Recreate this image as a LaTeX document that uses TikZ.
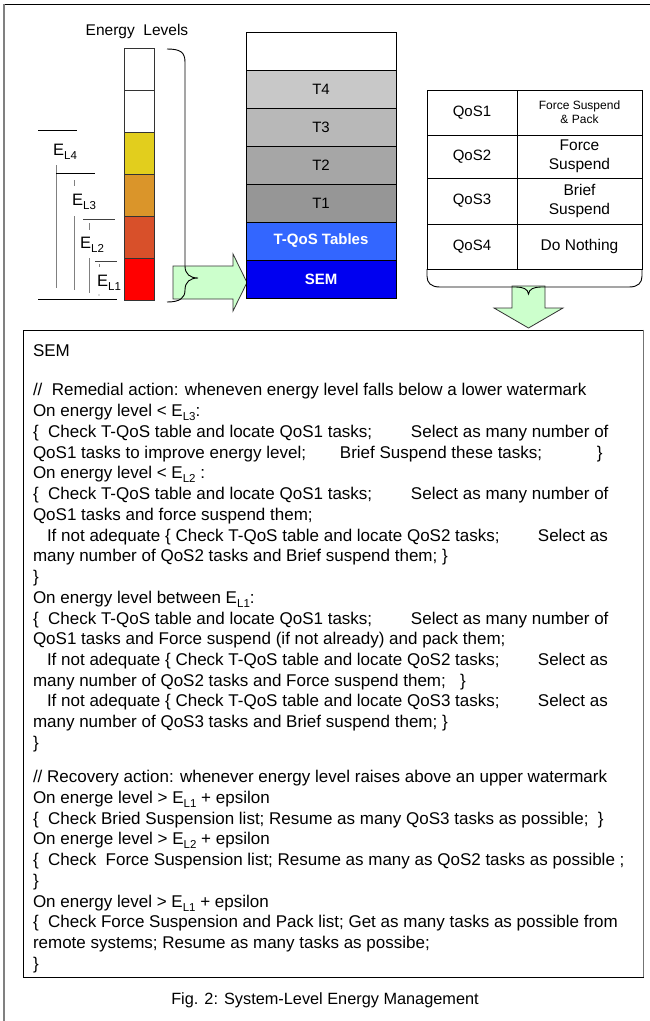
\documentclass[tikz,border=0pt]{standalone}
\usepackage{fontspec}
\setmainfont{Liberation Sans}
\definecolor{lvyellow}{HTML}{E2CE1D}
\definecolor{lvorange}{HTML}{DA952A}
\definecolor{lvbrick}{HTML}{D8502A}
\definecolor{lvred}{HTML}{FF0000}
\definecolor{tfour}{HTML}{C8C8C8}
\definecolor{tthree}{HTML}{B8B8B8}
\definecolor{ttwo}{HTML}{A6A6A6}
\definecolor{tone}{HTML}{969696}
\definecolor{tqos}{HTML}{3366FF}
\definecolor{semblue}{HTML}{0000F0}
\definecolor{arrowgreen}{HTML}{CCFFCC}
\newcommand\lsub[1]{\raisebox{-4pt}{\fontsize{11.5}{12}\selectfont #1}}
\newcommand\tabbox[2]{\makebox[#1pt][l]{#2}}
\begin{document}
\begin{tikzpicture}[x=1pt,y=-1pt,
  lvlcell/.style={draw=black!80, line width=0.9pt, minimum width=30pt, minimum height=42pt, inner sep=0pt},
  stackcell/.style={draw=black, line width=0.9pt, minimum width=150pt, minimum height=38pt, inner sep=0pt, font=\fontsize{15}{17}\selectfont},
  qoscell/.style={draw=black, line width=0.8pt, inner sep=0pt, minimum width=90pt, font=\fontsize{15}{17}\selectfont},
  actcell/.style={draw=black, line width=0.8pt, inner sep=0pt, minimum width=125pt, align=center, font=\fontsize{15.5}{18.5}\selectfont},
  levelrule/.style={line width=0.9pt, black},
  levelstem/.style={line width=0.9pt, black!50},
  elabel/.style={anchor=base west, inner sep=0pt, font=\fontsize{16.5}{18}\selectfont},
  blockarrow/.style={fill=arrowgreen, draw=black!80, line width=0.8pt, line join=miter},
  bracepath/.style={draw=black, line width=0.9pt},
  ln/.style={anchor=base west, inner sep=0pt, outer sep=0pt, font=\fontsize{17}{20}\selectfont}
]
\useasboundingbox (0,0) rectangle (650,1021);

% outer frame (only top and left edges)
\draw[line width=1pt, black] (4,4) -- (650,4);
\draw[line width=1.2pt, black!50] (4,4) -- (4,1021);

% energy level bar
\node (title) at (137,31) {\fontsize{15.5}{17}\selectfont Energy\ \ Levels};
\node[lvlcell, fill=white]    (e6) at (139,69)  {};
\node[lvlcell, fill=white]    (e5) at (139,111) {};
\node[lvlcell, fill=lvyellow] (e4) at (139,153) {};
\node[lvlcell, fill=lvorange] (e3) at (139,195) {};
\node[lvlcell, fill=lvbrick]  (e2) at (139,237) {};
\node[lvlcell, fill=lvred]    (e1) at (139,279) {};

% watermark levels
\draw[levelrule] (38,130) -- (77,130);
\node[elabel] (el4) at (53,155) {E\lsub{L4}};
\draw[levelstem] (56,165) -- (56,288);
\draw[levelrule] (56,173) -- (95,173);
\draw[levelstem] (74,180) -- (74,186);
\node[elabel] (el3) at (72,205) {E\lsub{L3}};
\draw[levelstem] (74,216) -- (74,290);
\draw[levelrule, black!75] (83,219) -- (115,219);
\draw[levelstem] (89,223) -- (89,230);
\node[elabel] (el2) at (80,248) {E\lsub{L2}};
\draw[levelstem] (89,258) -- (89,293);
\draw[levelrule, black!75] (95,261) -- (117,261);
\draw[levelstem] (99,264) -- (99,267);
\node[elabel] (el1) at (97,286) {E\lsub{L1}};
\fill[black!60] (99,295) circle (0.7);
\draw[levelrule] (38,299) -- (117,299);

% arrow into the stack
\draw[blockarrow] (173,266) -- (233,266) -- (233,254) -- (247,282.5) -- (233,311) -- (233,299) -- (173,299) -- cycle;

% brace gathering the levels
\draw[bracepath] (167,49) .. controls (180,49) and (185,52) .. (185,62) -- (185,266)
  .. controls (185,274) and (190,278) .. (198,278)
  .. controls (190,278) and (185,282) .. (185,290)
  .. controls (185,298) and (180,302) .. (167,302);

% software stack
\node[stackcell, fill=white]   (top) at (321,51)  {};
\node[stackcell, fill=tfour]   (t4)  at (321,89)  {T4};
\node[stackcell, fill=tthree]  (t3)  at (321,127) {T3};
\node[stackcell, fill=ttwo]    (t2)  at (321,165) {T2};
\node[stackcell, fill=tone]    (t1)  at (321,203) {T1};
\node[stackcell, fill=tqos, text=white, font=\fontsize{15}{17}\selectfont\bfseries] (tq) at (321,241) {T-QoS Tables};
\node[stackcell, fill=semblue, text=white, font=\fontsize{15}{17}\selectfont\bfseries] (sem) at (321,279) {SEM};

% QoS table
\node[qoscell, minimum height=45pt] (q1) at (472,112.5) {QoS1};
\node[qoscell, minimum height=43pt] (q2) at (472,156.5) {QoS2};
\node[qoscell, minimum height=46pt] (q3) at (472,201)   {QoS3};
\node[qoscell, minimum height=45pt] (q4) at (472,246.5) {QoS4};
\node[actcell, minimum height=45pt, font=\fontsize{12}{14}\selectfont] (a1) at (579.5,112.5) {Force Suspend\\\& Pack};
\node[actcell, minimum height=43pt] (a2) at (579.5,156.5) {Force\\Suspend};
\node[actcell, minimum height=46pt] (a3) at (579.5,201)   {Brief\\Suspend};
\node[actcell, minimum height=45pt] (a4) at (579.5,246.5) {Do Nothing};

% arrow down to the SEM listing
\draw[blockarrow] (512,286) -- (545,286) -- (545,308) -- (563,308) -- (528.5,328) -- (494,308) -- (512,308) -- cycle;

% brace under the table
\draw[bracepath] (427,269) -- (427,276) .. controls (427,283) and (431,287) .. (440,287) -- (516,287)
  .. controls (523,287) and (528,289) .. (528.5,294)
  .. controls (529,289) and (534,287) .. (541,287) -- (629,287)
  .. controls (638,287) and (642,283) .. (642,276) -- (642,269);

% SEM listing box
\node[draw=black, line width=0.9pt, minimum width=620pt, minimum height=647pt, inner sep=0pt] (listing) at (333,653.5) {};
\draw[line width=1.6pt, black!55] (listing.north east) -- (listing.south east);

\node[ln] (l01) at (33,356) {SEM};
\node[ln] (l02) at (33,395) {//\ \ Remedial action: wheneven energy level falls below a lower watermark};
\node[ln] (l03) at (33,416) {On energy level < E\lsub{L3}:};
\node[ln] (l04) at (33,437) {\tabbox{378}{\{\ \ Check T-QoS table and locate QoS1 tasks;}Select as many number of};
\node[ln] (l05) at (33,458) {\tabbox{307}{QoS1 tasks to improve energy level;}\tabbox{257}{Brief Suspend these tasks;}\}};
\node[ln] (l06) at (33,478) {On energy level < E\lsub{L2} :};
\node[ln] (l07) at (33,499) {\tabbox{378}{\{\ \ Check T-QoS table and locate QoS1 tasks;}Select as many number of};
\node[ln] (l08) at (33,520) {QoS1 tasks and force suspend them;};
\node[ln] (l09) at (33,541) {\tabbox{505}{\hspace*{14pt}If not adequate \{ Check T-QoS table and locate QoS2 tasks;}Select as};
\node[ln] (l10) at (33,561) {many number of QoS2 tasks and Brief suspend them; \}};
\node[ln] (l11) at (33,582) {\}};
\node[ln] (l12) at (33,603) {On energy level between E\lsub{L1}:};
\node[ln] (l13) at (33,624) {\tabbox{378}{\{\ \ Check T-QoS table and locate QoS1 tasks;}Select as many number of};
\node[ln] (l14) at (33,644) {QoS1 tasks and Force suspend (if not already) and pack them;};
\node[ln] (l15) at (33,665) {\tabbox{505}{\hspace*{14pt}If not adequate \{ Check T-QoS table and locate QoS2 tasks;}Select as};
\node[ln] (l16) at (33,686) {many number of QoS2 tasks and Force suspend them;\ \ \ \}};
\node[ln] (l17) at (33,706) {\tabbox{505}{\hspace*{14pt}If not adequate \{ Check T-QoS table and locate QoS3 tasks;}Select as};
\node[ln] (l18) at (33,727) {many number of QoS3 tasks and Brief suspend them; \}};
\node[ln] (l19) at (33,748) {\}};
\node[ln] (l20) at (33,782) {// Recovery action: whenever energy level raises above an upper watermark};
\node[ln] (l21) at (33,803) {On energe level > E\lsub{L1} + epsilon};
\node[ln] (l22) at (33,824) {\{\ \ Check Bried Suspension list; Resume as many QoS3 tasks as possible;\ \ \}};
\node[ln] (l23) at (33,844) {On energe level > E\lsub{L2} + epsilon};
\node[ln] (l24) at (33,865) {\{\ \ Check\ \ Force Suspension list; Resume as many as QoS2 tasks as possible ;};
\node[ln] (l25) at (33,886) {\}};
\node[ln] (l26) at (33,907) {On energy level > E\lsub{L1} + epsilon};
\node[ln] (l27) at (33,927) {\{\ \ Check Force Suspension and Pack list; Get as many tasks as possible from};
\node[ln] (l28) at (33,948) {remote systems; Resume as many tasks as possibe;};
\node[ln] (l29) at (33,969) {\}};

% caption
\node (caption) at (325,1000) {\fontsize{16.3}{18}\selectfont Fig. 2: System-Level Energy Management};
\end{tikzpicture}
\end{document}
